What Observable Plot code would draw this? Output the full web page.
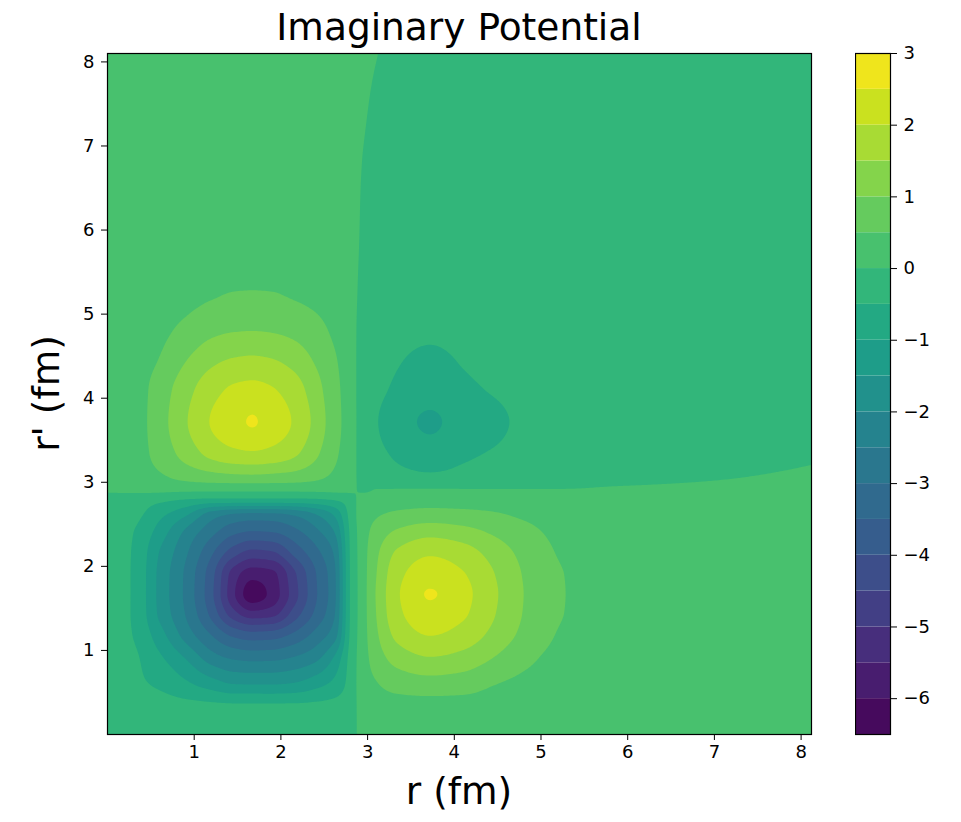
<!DOCTYPE html>
<html><head><meta charset="utf-8">
<script src="https://cdn.jsdelivr.net/npm/d3@7"></script>
<script src="https://cdn.jsdelivr.net/npm/@observablehq/plot@0.6"></script>
<style>
html,body{margin:0;padding:0;background:#fff;}
#chart{position:relative;width:961px;height:822px;font-family:"DejaVu Sans",sans-serif;}
#chart svg{position:absolute;top:0;}
</style></head><body><div id="chart"></div>
<script>
// grid nodes (fm) used for both r and r'
const rGrid = [0, 0.3, 0.6, 0.9, 1.2, 1.45, 1.67, 1.9, 2.15, 2.4, 2.62, 2.8, 2.95, 3.1, 3.35, 3.72, 4.1, 4.45, 4.8, 5.25, 5.8, 6.6, 7.4, 8.12];
// potential values; one row per r' node, one column per r node
const potential = [
 [-0.25,-0.25,-0.25,-0.25,-0.25,-0.25,-0.25,-0.25,-0.25,-0.25,-0.25,-0.25, 0.25,0.25,0.25,0.25,0.25,0.25,0.25,0.25,0.25,0.25,0.25,0.25],
 [-0.25,-0.27,-0.30,-0.33,-0.35,-0.36,-0.36,-0.36,-0.36,-0.35,-0.32,-0.25, 0.25,0.28,0.30,0.30,0.30,0.29,0.28,0.27,0.25,0.25,0.25,0.25],
 [-0.25,-0.40,-0.58,-0.90,-1.25,-1.50,-1.52,-1.52,-1.45,-1.18,-0.85,-0.30, 0.28,0.47,0.69,0.79,0.73,0.52,0.40,0.30,0.27,0.25,0.25,0.25],
 [-0.25,-0.42,-0.90,-1.50,-2.23,-2.53,-2.61,-2.59,-2.42,-2.11,-1.40,-0.33, 0.29,0.73,1.20,1.45,1.31,0.98,0.62,0.36,0.27,0.25,0.25,0.25],
 [-0.25,-0.52,-1.30,-2.23,-3.05,-3.67,-3.88,-3.82,-3.44,-2.86,-2.23,-0.43, 0.30,0.92,1.67,2.04,1.82,1.38,0.89,0.45,0.29,0.25,0.25,0.25],
 [-0.25,-0.55,-1.60,-2.53,-3.67,-4.84,-5.39,-5.23,-4.32,-3.40,-2.53,-0.46, 0.30,1.01,1.89,2.35,2.08,1.55,0.98,0.51,0.30,0.25,0.25,0.25],
 [-0.25,-0.55,-1.64,-2.61,-3.88,-5.39,-6.30,-5.82,-4.73,-3.58,-2.61,-0.46, 0.30,1.04,1.95,2.53,2.16,1.60,1.00,0.52,0.30,0.25,0.25,0.25],
 [-0.25,-0.55,-1.63,-2.59,-3.82,-5.23,-5.82,-5.64,-4.62,-3.53,-2.59,-0.46, 0.30,0.99,1.86,2.30,2.04,1.53,0.97,0.51,0.30,0.25,0.25,0.25],
 [-0.25,-0.54,-1.53,-2.42,-3.44,-4.32,-4.73,-4.62,-3.90,-3.19,-2.42,-0.45, 0.30,0.90,1.61,1.95,1.75,1.32,0.87,0.45,0.29,0.25,0.25,0.25],
 [-0.25,-0.50,-1.22,-2.11,-2.86,-3.40,-3.58,-3.53,-3.19,-2.66,-2.00,-0.42, 0.29,0.69,1.11,1.35,1.21,0.94,0.66,0.38,0.28,0.25,0.25,0.25],
 [-0.25,-0.36,-0.85,-1.40,-2.23,-2.53,-2.61,-2.59,-2.42,-2.00,-1.40,-0.33, 0.27,0.44,0.59,0.69,0.64,0.55,0.42,0.30,0.26,0.25,0.25,0.25],
 [-0.25,-0.25,-0.35,-0.48,-0.55,-0.55,-0.55,-0.55,-0.55,-0.52,-0.42,-0.25, 0.25,0.25,0.25,0.25,0.25,0.25,0.25,0.25,0.25,0.25,0.25,0.25],
 [0.25,0.25,0.28,0.29,0.30,0.30,0.30,0.30,0.30,0.29,0.27,0.25, -0.25,-0.06,-0.06,-0.06,-0.06,-0.06,-0.06,-0.06,0.00,0.06,0.12,0.17],
 [0.25,0.28,0.47,0.73,0.92,1.01,1.04,0.99,0.90,0.69,0.44,0.25, -0.25,-0.31,-0.39,-0.47,-0.39,-0.34,-0.29,-0.27,-0.25,-0.15,-0.03,0.08],
 [0.25,0.30,0.69,1.20,1.67,1.89,1.95,1.86,1.61,1.11,0.59,0.25, -0.25,-0.39,-0.58,-0.78,-0.58,-0.47,-0.36,-0.29,-0.26,-0.25,-0.22,-0.10],
 [0.25,0.30,0.79,1.45,2.04,2.35,2.53,2.30,1.95,1.35,0.69,0.25, -0.25,-0.47,-0.78,-1.07,-0.78,-0.61,-0.42,-0.32,-0.27,-0.25,-0.25,-0.25],
 [0.25,0.30,0.73,1.31,1.82,2.08,2.16,2.04,1.75,1.21,0.64,0.25, -0.25,-0.39,-0.58,-0.78,-0.58,-0.47,-0.36,-0.29,-0.26,-0.25,-0.25,-0.25],
 [0.25,0.29,0.52,0.98,1.38,1.55,1.60,1.53,1.32,0.94,0.55,0.25, -0.25,-0.34,-0.47,-0.61,-0.47,-0.40,-0.32,-0.28,-0.26,-0.25,-0.25,-0.25],
 [0.25,0.28,0.40,0.62,0.89,0.98,1.00,0.97,0.87,0.66,0.42,0.25, -0.25,-0.29,-0.36,-0.42,-0.36,-0.32,-0.28,-0.26,-0.25,-0.25,-0.25,-0.25],
 [0.25,0.27,0.30,0.36,0.45,0.51,0.52,0.51,0.45,0.38,0.30,0.25, -0.20,-0.27,-0.29,-0.32,-0.29,-0.28,-0.26,-0.25,-0.25,-0.25,-0.25,-0.25],
 [0.25,0.25,0.27,0.27,0.29,0.30,0.30,0.30,0.29,0.28,0.26,0.25, -0.12,-0.25,-0.26,-0.27,-0.26,-0.26,-0.25,-0.25,-0.25,-0.25,-0.25,-0.25],
 [0.25,0.25,0.25,0.25,0.25,0.25,0.25,0.25,0.25,0.25,0.25,0.25, -0.05,-0.20,-0.25,-0.25,-0.25,-0.25,-0.25,-0.25,-0.25,-0.25,-0.25,-0.25],
 [0.25,0.25,0.25,0.25,0.25,0.25,0.25,0.25,0.25,0.25,0.25,0.25, 0.06,-0.10,-0.20,-0.25,-0.25,-0.25,-0.25,-0.25,-0.25,-0.25,-0.25,-0.25],
 [0.25,0.25,0.25,0.25,0.25,0.25,0.25,0.25,0.25,0.25,0.25,0.25, 0.15,0.02,-0.15,-0.22,-0.25,-0.25,-0.25,-0.25,-0.25,-0.25,-0.25,-0.25]
];
const levels = [-6.5,-6,-5.5,-5,-4.5,-4,-3.5,-3,-2.5,-2,-1.5,-1,-0.5,0,0.5,1,1.5,2,2.5,3];
const xTicks = [1,2,3,4,5,6,7,8];
const yTicks = [1,2,3,4,5,6,7,8];
const cbTicks = [-6,-5,-4,-3,-2,-1,0,1,2,3];
const titleText = "Imaginary Potential";
const xLabelText = "r (fm)";
const yLabelText = "r' (fm)";

const samples = [];
potential.forEach((row, j) => row.forEach((v, i) => samples.push({r: rGrid[i], rp: rGrid[j], v})));
const nb = levels.length - 1;
const bandColors = levels.slice(0, -1).map((_, i) => d3.interpolateViridis((i + 0.5) / nb));
const colorScale = {type: "threshold", domain: levels.slice(1, -1), range: bandColors};
const bands = levels.slice(0, -1).map((lo, i) => ({lo, hi: levels[i + 1]}));
const fmt = d => d < 0 ? "\u2212" + Math.abs(d) : String(d);
const FONT = "DejaVu Sans";

// monotone cubic (PCHIP) spatial interpolator for samples on a rectilinear grid
function pchipSlopes(xs, ys) {
  const n = xs.length, h = [], d = [], m = new Float64Array(n);
  for (let k = 0; k < n - 1; k++) { h[k] = xs[k + 1] - xs[k]; d[k] = (ys[k + 1] - ys[k]) / h[k]; }
  m[0] = d[0]; m[n - 1] = d[n - 2];
  for (let k = 1; k < n - 1; k++) {
    if (d[k - 1] * d[k] <= 0) m[k] = 0;
    else { const w1 = 2 * h[k] + h[k - 1], w2 = h[k] + 2 * h[k - 1]; m[k] = (w1 + w2) / (w1 / d[k - 1] + w2 / d[k]); }
  }
  return m;
}
function pchipEval(xs, ys, m, x) {
  const n = xs.length;
  if (x <= xs[0]) return ys[0];
  if (x >= xs[n - 1]) return ys[n - 1];
  const k = Math.min(n - 2, d3.bisectRight(xs, x) - 1);
  const h = xs[k + 1] - xs[k], t = (x - xs[k]) / h, t2 = t * t, t3 = t2 * t;
  return (2 * t3 - 3 * t2 + 1) * ys[k] + (t3 - 2 * t2 + t) * h * m[k] + (-2 * t3 + 3 * t2) * ys[k + 1] + (t3 - t2) * h * m[k + 1];
}
function gridInterpolate(index, w, h, X, Y, V) {
  const xs = Array.from(new Set(Array.from(index, i => X[i]))).sort((a, b) => a - b);
  const ys = Array.from(new Set(Array.from(index, i => Y[i]))).sort((a, b) => a - b);
  const xi = new Map(xs.map((x, k) => [x, k])), yi = new Map(ys.map((y, k) => [y, k]));
  const G = ys.map(() => new Float64Array(xs.length));
  for (const i of index) G[yi.get(Y[i])][xi.get(X[i])] = V[i];
  const S = G.map(row => pchipSlopes(xs, row));
  const out = new Float64Array(w * h);
  const col = new Float64Array(ys.length);
  for (let px = 0; px < w; px++) {
    const cx = px + 0.5;
    for (let j = 0; j < ys.length; j++) col[j] = pchipEval(xs, G[j], S[j], cx);
    const cs = pchipSlopes(ys, col);
    for (let py = 0; py < h; py++) out[py * w + px] = pchipEval(ys, col, cs, py + 0.5);
  }
  return out;
}

const main = Plot.plot({
  width: 961, height: 822,
  marginLeft: 107, marginRight: 150, marginTop: 53, marginBottom: 88,
  x: {domain: [0, 8.12]},
  y: {domain: [0, 8.1]},
  color: colorScale,
  style: {fontFamily: FONT, fontSize: "18px", background: "transparent", color: "#000"},
  marks: [
    Plot.contour(samples, {x: "r", y: "rp", fill: "v", interpolate: gridInterpolate, thresholds: levels.slice(0, -1), stroke: "none"}),
    Plot.frame({stroke: "#000", strokeWidth: 1.2}),
    Plot.axisX(xTicks, {anchor: "bottom", tickSize: 6, tickPadding: 5, fontSize: 18, label: null, tickFormat: fmt}),
    Plot.axisY(yTicks, {anchor: "left", tickSize: 6, tickPadding: 7, fontSize: 18, label: null, tickFormat: fmt})
  ]
});

const cbar = Plot.plot({
  width: 106, height: 822,
  marginLeft: 0, marginRight: 71, marginTop: 53, marginBottom: 88,
  y: {domain: [-6.5, 3]},
  color: colorScale,
  style: {fontFamily: FONT, fontSize: "18px", background: "transparent", color: "#000"},
  marks: [
    Plot.rect(bands, {y1: "lo", y2: "hi", fill: "lo"}),
    Plot.frame({stroke: "#000", strokeWidth: 1.2}),
    Plot.axisY(cbTicks, {anchor: "right", tickSize: 6, tickPadding: 7, fontSize: 18, label: null, tickFormat: fmt})
  ]
});

const chart = document.getElementById("chart");
main.style.left = "0px";
chart.appendChild(main);
cbar.style.left = "855px";
chart.appendChild(cbar);

const svg = d3.select(main);
svg.append("text").attr("x", 459).attr("y", 40).attr("text-anchor", "middle")
  .attr("font-family", FONT).attr("font-size", 37.5).attr("fill", "#000").text(titleText);
svg.append("text").attr("x", 459).attr("y", 804).attr("text-anchor", "middle")
  .attr("font-family", FONT).attr("font-size", 37.5).attr("fill", "#000").text(xLabelText);
svg.append("text").attr("transform", "translate(59,393.5) rotate(-90)").attr("text-anchor", "middle")
  .attr("font-family", FONT).attr("font-size", 37.5).attr("fill", "#000").text(yLabelText);
</script></body></html>
